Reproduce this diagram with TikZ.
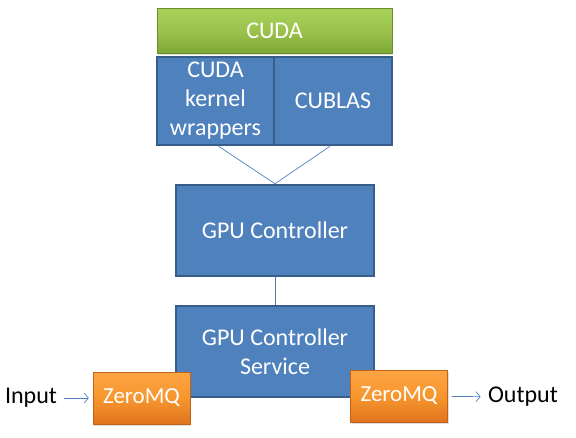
\documentclass[tikz,border=0pt]{standalone}
\usepackage{fontspec}
\setmainfont{Carlito}
\usepackage{tikz}
\usetikzlibrary{positioning, calc, shadows, arrows.meta}
\usepackage{xcolor}
\definecolor{boxblue}{HTML}{4F81BD}
\definecolor{boxedge}{HTML}{385D8A}
\definecolor{greentop}{HTML}{A8D25A}
\definecolor{greenmid}{HTML}{9BC34C}
\definecolor{greenbot}{HTML}{7EA636}
\definecolor{orangetop}{HTML}{FDA544}
\definecolor{orangemid}{HTML}{F7962E}
\definecolor{orangebot}{HTML}{E0741E}

\tikzset{
    boxfont/.style={font=\fontsize{24}{29}\selectfont},
    bluebox/.style={draw=boxedge, line width=2.5pt, fill=boxblue, text=white,
        align=center, boxfont, inner sep=0pt},
    greenbox/.style={draw=greenbot!85!black, line width=0.6pt, top color=greentop,
        bottom color=greenbot, middle color=greenmid, text=white, boxfont,
        drop shadow={opacity=0.25, shadow xshift=1pt, shadow yshift=-2pt}},
    zmqbox/.style={draw=orangebot!85!black, line width=0.6pt, top color=orangetop,
        bottom color=orangebot, middle color=orangemid, text=white,
        font=\fontsize{23}{28}\selectfont,
        minimum width=97pt, minimum height=52pt,
        drop shadow={opacity=0.25, shadow xshift=1pt, shadow yshift=-2pt}},
    link/.style={draw=boxblue, line width=0.7pt},
    arrowlink/.style={link, -{Straight Barb[length=4pt, width=10pt]}, shorten >=4pt, shorten <=4pt}
}

\begin{document}
\begin{tikzpicture}[x=1pt, y=-1pt]
    \useasboundingbox (0,0) rectangle (576,437);

    % CUDA layer
    \node[greenbox, minimum width=235pt, minimum height=45pt] (cuda) at (274.5,30.5) {CUDA};

    % Libraries under CUDA
    \node[bluebox, minimum width=117pt, minimum height=88pt] (wrappers) at (215.5,101) {CUDA\\kernel\\wrappers};
    \node[bluebox, minimum width=118pt, minimum height=88pt] (cublas) at (333,101) {CUBLAS};

    % Controller
    \node[bluebox, minimum width=198pt, minimum height=91pt] (ctrl) at (275,230.5) {GPU Controller};
    \node[bluebox, minimum width=198pt, minimum height=91pt] (service) at (275,351.5) {GPU Controller\\Service};

    % ZeroMQ sockets
    \node[zmqbox] (zmqin) at (141.5,398) {ZeroMQ};
    \node[zmqbox] (zmqout) at (399,396) {ZeroMQ};

    % Labels
    \node[boxfont] (input) at (31,398) {Input};
    \node[boxfont] (output) at (523,397) {Output};

    % Connections
    \draw[link] ($(wrappers.south)+(3,0)$) -- (ctrl.north);
    \draw[link] ($(cublas.south)+(-3,0)$) -- (ctrl.north);
    \draw[link] (ctrl.south) -- (service.north);
    \draw[arrowlink] (input) -- (zmqin);
    \draw[arrowlink] (zmqout) -- (output);
\end{tikzpicture}
\end{document}
